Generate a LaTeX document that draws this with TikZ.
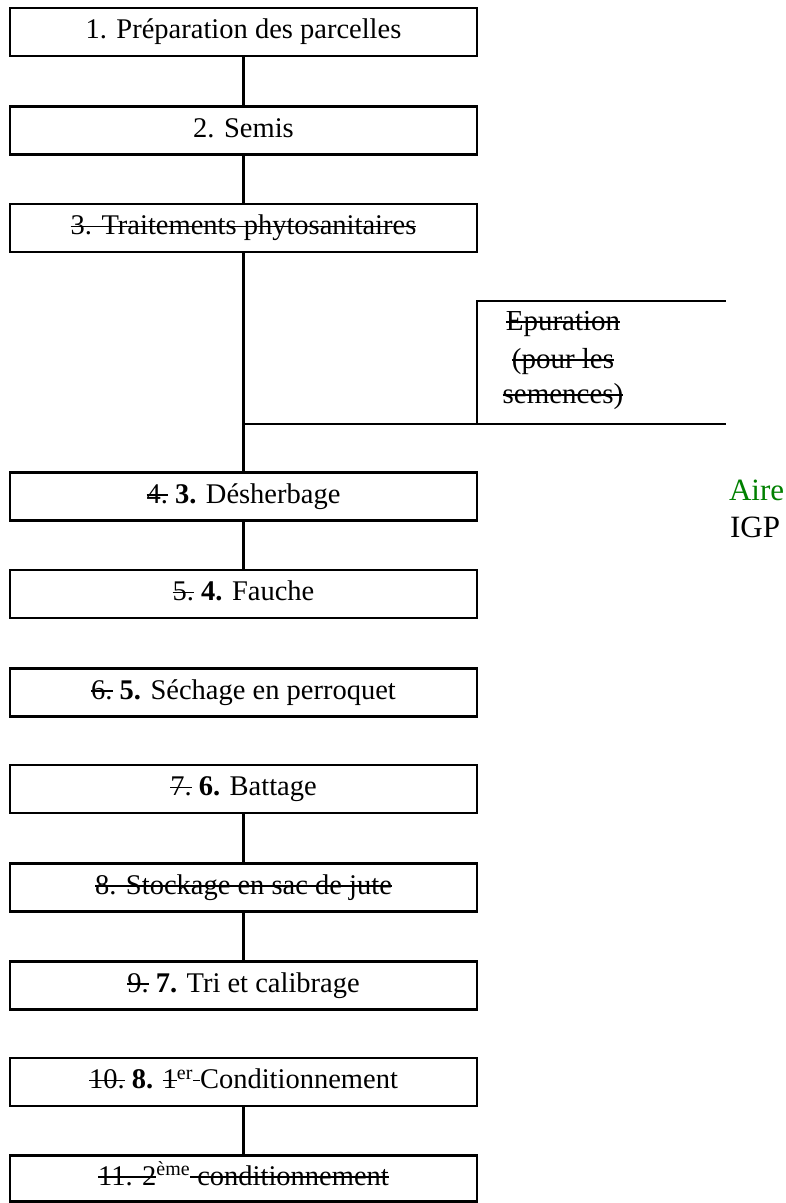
\documentclass[tikz,border=0pt]{standalone}
\usepackage{fontspec}
\setmainfont{Liberation Serif}
\definecolor{airegreen}{RGB}{0,128,0}
\newsavebox{\strikebox}
\newcommand{\strk}[1]{\sbox{\strikebox}{#1}\rlap{\rule[0.25em]{\wd\strikebox}{1.8pt}}\usebox{\strikebox}}
\newcommand{\mainsz}{\fontsize{28.5}{34}\selectfont}
\newcommand{\epsz}{\fontsize{29}{34}\selectfont}
\newcommand{\asz}{\fontsize{31}{36}\selectfont}
\begin{document}
\begin{tikzpicture}[x=1pt,y=-1pt,line width=2.2pt,
  stepbox/.style={draw,line width=2.2pt,minimum width=467pt,minimum height=48pt,inner sep=0pt,text height=21.5pt,text depth=8.5pt,font=\mainsz},
  eptext/.style={anchor=base,inner sep=0pt,font=\epsz},
  sidetext/.style={anchor=base west,inner sep=0pt,font=\asz},
  link/.style={line width=2.2pt}]
\useasboundingbox (0,0) rectangle (786,1203);
\node[stepbox] (b1) at (243.5,32) {1. Préparation des parcelles};
\node[stepbox] (b2) at (243.5,130.5) {2. Semis};
\node[stepbox] (b3) at (243.5,228) {\strk{3. Traitements phytosanitaires}};
\node[stepbox] (b4) at (243.5,496.5) {\strk{4.} \textbf{3.} Désherbage};
\node[stepbox] (b5) at (243.5,594) {\strk{5.} \textbf{4.} Fauche};
\node[stepbox] (b6) at (243.5,692.5) {\strk{6.} \textbf{5.} Séchage en perroquet};
\node[stepbox] (b7) at (243.5,789) {\strk{7.} \textbf{6.} Battage};
\node[stepbox] (b8) at (243.5,887.5) {\strk{8. Stockage en sac de jute}};
\node[stepbox] (b9) at (243.5,985.5) {\strk{9.} \textbf{7.} Tri et calibrage};
\node[stepbox] (b10) at (243.5,1082) {\strk{10.} \textbf{8.} \strk{1}\textsuperscript{er}\strk{\ }Conditionnement};
\node[stepbox,minimum height=46pt] (b11) at (243.5,1178.5) {\strk{11. 2}\textsuperscript{ème}\strk{\ conditionnement}};
% Epuration bracket box
\coordinate (epB) at (477,424);
\coordinate (epL) at (477,301);
\coordinate (epT) at (726,301);
\coordinate (epR) at (726,424);
\coordinate (br) at (243.5,424);
\node[eptext] (ep1) at (563,330) {\strk{Epuration}};
\node[eptext] (ep2) at (563,368) {\strk{(pour les}};
\node[eptext] (ep3) at (563,403) {\strk{semences)}};
\draw[link] (epB) -- (epL) -- (epT);
\draw[link] (br) -- (epR);
% side label
\node[sidetext,text=airegreen] (aire) at (728,500) {Aire};
\node[sidetext] (igp) at (729,537) {IGP};
% connectors
\draw[link] (b1) -- (b2);
\draw[link] (b2) -- (b3);
\draw[link] (b3) -- (b4);
\draw[link] (b4) -- (b5);
\draw[link] (b7) -- (b8);
\draw[link] (b8) -- (b9);
\draw[link] (b10) -- (b11);
\end{tikzpicture}
\end{document}
